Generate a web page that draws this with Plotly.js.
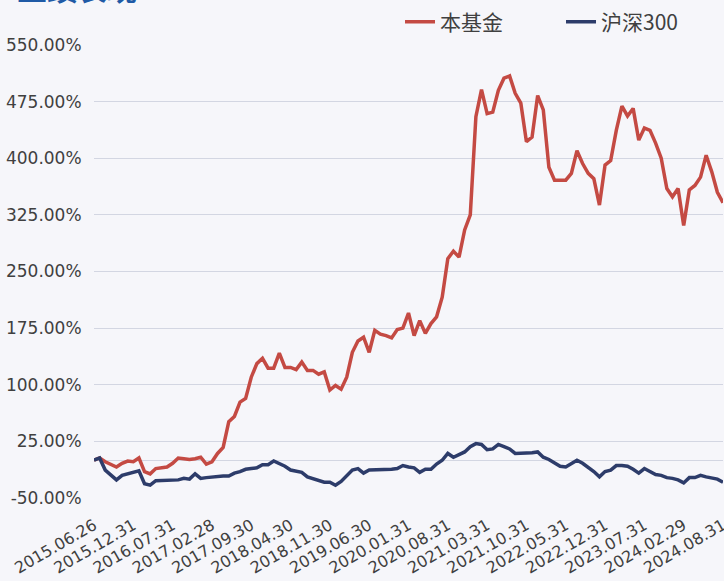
<!DOCTYPE html>
<html>
<head>
<meta charset="utf-8">
<script src="https://cdn.plot.ly/plotly-3.0.1.min.js"></script>
<style>
html,body{margin:0;padding:0;background:#f6f6fa;}
#chart{width:724px;height:581px;}
</style>
</head>
<body>
<div id="chart"></div>
<script>
// Cumulative return (%) of the fund, one value per period
const fundReturn = [
  0, 3, -2, -5, -9, -4, -1, -2, 3, -15,
  -18, -11, -10, -9, -4, 3, 2, 1, 2, 4,
  -5, -2, 9, 17, 51, 58, 77, 82, 110, 128,
  135, 122, 122, 142, 123, 123, 120, 130, 119, 119,
  114, 117, 93, 99, 94, 110, 143, 158, 163, 143,
  172, 167, 165, 162, 173, 175, 195, 165, 185, 168,
  181, 190, 216, 267, 277, 269, 305, 325, 455, 491,
  459, 461, 490, 506, 509, 486, 473, 422, 428, 483,
  464, 388, 371, 371, 371, 380, 410, 393, 380, 373,
  338, 391, 397, 437, 469, 456, 466, 424, 440, 437,
  420, 400, 360, 349, 360, 311, 358, 364, 375, 404,
  382, 355, 341
];
// Cumulative return (%) of CSI 300 over the same periods
const csi300Return = [
  0, 3, -13, -20, -26, -20, -18, -17, -14, -31,
  -33, -27, -27, -27, -26, -26, -24, -25, -18, -24,
  -23, -22, -22, -21, -21, -17, -15, -12, -11, -10,
  -6, -6, -1, -4, -8, -13, -14, -16, -22, -24,
  -26, -29, -29, -33, -28, -20, -13, -11, -17, -13,
  -13, -13, -12, -12, -11, -7, -9, -10, -16, -12,
  -12, -5, 0, 9, 4, 8, 11, 18, 22, 21,
  14, 15, 21, 18, 15, 9, 9, 9, 10, 11,
  4, 1, -3, -8, -9, -5, 0, -4, -9, -15,
  -22, -15, -13, -7, -7, -8, -12, -17, -11, -15,
  -19, -20, -23, -24, -26, -30, -23, -23, -20, -22,
  -23, -25, -29
];
const tickLabels = [
  '2015.06.26','2015.12.31','2016.07.31','2017.02.28','2017.09.30',
  '2018.04.30','2018.11.30','2019.06.30','2020.01.31','2020.08.31',
  '2021.03.31','2021.10.31','2022.05.31','2022.12.31','2023.07.31',
  '2024.02.29','2024.08.31'
];
const labelStep = 7;
const yTickValues = [-50, 25, 100, 175, 250, 325, 400, 475, 550];
const seriesNames = ['本基金', '沪深300'];
const chartTitle = '业绩表现';

const idx = fundReturn.map((_, i) => i);
const tickPositions = tickLabels.map((_, k) => k * labelStep);
const yTickText = yTickValues.map(v => v.toFixed(2) + '%');

const traces = [
  {x: idx, y: fundReturn, name: seriesNames[0], type: 'scatter', mode: 'lines',
   line: {color: '#c44a43', width: 3.5}},
  {x: idx, y: csi300Return, name: seriesNames[1], type: 'scatter', mode: 'lines',
   line: {color: '#2d3c6a', width: 3.5}}
];

const layout = {
  width: 724, height: 581,
  margin: {l: 94, r: 1, t: 45, b: 83, autoexpand: false},
  paper_bgcolor: '#f6f6fa',
  plot_bgcolor: '#f6f6fa',
  showlegend: true,
  legend: {
    orientation: 'h', xref: 'container', yref: 'container',
    x: 0.5525, xanchor: 'left', y: 0.962, yanchor: 'middle',
    font: {family: 'Noto Sans CJK SC', size: 21, color: '#404040'},
    entrywidth: 116, entrywidthmode: 'pixels', bgcolor: 'rgba(0,0,0,0)'
  },
  xaxis: {
    automargin: false,
    range: [0, idx.length - 1],
    tickmode: 'array', tickvals: tickPositions, ticktext: tickLabels,
    tickangle: -30, ticklabeloverflow: 'allow',
    showgrid: false, zeroline: false, showline: false,
    ticks: 'outside', ticklen: 11, tickcolor: 'rgba(0,0,0,0)',
    tickfont: {family: 'DejaVu Sans', size: 16, color: '#404040'}
  },
  yaxis: {
    automargin: false,
    range: [-50, 550],
    tickmode: 'array', tickvals: yTickValues, ticktext: yTickText,
    showgrid: true, gridcolor: '#d3d6e2', gridwidth: 1,
    zeroline: true, zerolinecolor: '#d3d6e2', zerolinewidth: 1,
    showline: false,
    ticks: 'outside', ticklen: 8, tickcolor: 'rgba(0,0,0,0)',
    tickfont: {family: 'DejaVu Sans', size: 17, color: '#404040'}
  },
  annotations: [{
    text: '<b>' + chartTitle + '</b>', xref: 'paper', yref: 'paper',
    x: -0.125, xanchor: 'left', y: 1.075, yanchor: 'bottom', showarrow: false,
    font: {family: 'Noto Sans CJK SC', size: 30, color: '#1f5aa6'}
  }]
};

Plotly.newPlot('chart', traces, layout, {displayModeBar: false, staticPlot: true});
</script>
</body>
</html>
